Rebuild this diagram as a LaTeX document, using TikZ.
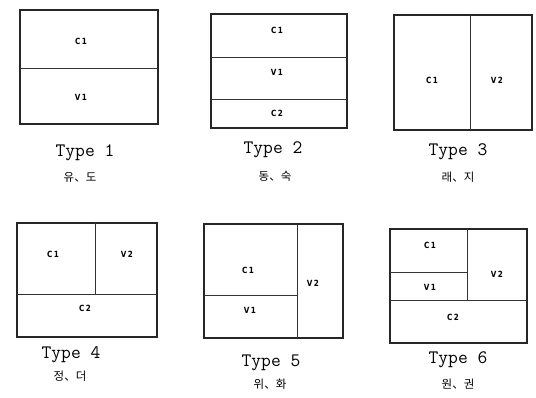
\documentclass[tikz,border=0pt]{standalone}
\usepackage{fontspec}
\newfontfamily\cjk{Noto Sans CJK KR}
\newfontfamily\cellfont[FakeStretch=0.85]{DejaVu Sans}
\begin{document}
\begin{tikzpicture}[x=1pt,y=-1pt,
  frame/.style={draw=black!85, line width=1.1pt},
  part/.style={draw=black!80, line width=0.8pt},
  cell/.style={font=\cellfont\bfseries\fontsize{8.5}{9}\selectfont, inner sep=0pt},
  typelbl/.style={font=\ttfamily\fontsize{19}{19}\selectfont, inner sep=0pt},
  namelbl/.style={font=\cjk\fontsize{11.5}{12}\selectfont, inner sep=0pt}]
\useasboundingbox (0,0) rectangle (536,397);

% Type 1: two horizontal bands
\draw[frame] (20,10) rectangle (158,124);
\draw[part] (20,68) -- (158,68);
\node[cell] (t1c1) at (81,41) {C\,1};
\node[cell] (t1v1) at (81,97) {V\,1};
\node[typelbl] (t1) at (85,153) {Type 1};
\node[namelbl] (t1n) at (80,177) {유、도};

% Type 2: three horizontal bands
\draw[frame] (211,14) rectangle (347,128);
\draw[part] (211,57) -- (347,57);
\draw[part] (211,99) -- (347,99);
\node[cell] (t2c1) at (277,30) {C\,1};
\node[cell] (t2v1) at (277,72) {V\,1};
\node[cell] (t2c2) at (277,113) {C\,2};
\node[typelbl] (t2) at (273,150) {Type 2};
\node[namelbl] (t2n) at (275,176) {동、숙};

% Type 3: two vertical columns
\draw[frame] (394,15) rectangle (532,130);
\draw[part] (470,15) -- (470,130);
\node[cell] (t3c1) at (432,80) {C\,1};
\node[cell] (t3v2) at (497,80) {V\,2};
\node[typelbl] (t3) at (458,152) {Type 3};
\node[namelbl] (t3n) at (458,177) {래、지};

% Type 4: two cells above a full-width band
\draw[frame] (17,223) rectangle (157,337);
\draw[part] (17,294) -- (157,294);
\draw[part] (95,223) -- (95,294);
\node[cell] (t4c1) at (53,254) {C\,1};
\node[cell] (t4v2) at (127,254) {V\,2};
\node[cell] (t4c2) at (85,308) {C\,2};
\node[typelbl] (t4) at (71,355) {Type 4};
\node[namelbl] (t4n) at (70,376) {정、더};

% Type 5: stacked cells beside a tall column
\draw[frame] (204,224) rectangle (343,338);
\draw[part] (297,224) -- (297,338);
\draw[part] (204,295) -- (297,295);
\node[cell] (t5c1) at (248,270) {C\,1};
\node[cell] (t5v1) at (250,310) {V\,1};
\node[cell] (t5v2) at (313,283) {V\,2};
\node[typelbl] (t5) at (271,363) {Type 5};
\node[namelbl] (t5n) at (270,384) {위、화};

% Type 6: stacked cells and a column above a full-width band
\draw[frame] (390,229) rectangle (527,343);
\draw[part] (390,300) -- (527,300);
\draw[part] (467,229) -- (467,300);
\draw[part] (390,272) -- (467,272);
\node[cell] (t6c1) at (430,245) {C\,1};
\node[cell] (t6v1) at (430,287) {V\,1};
\node[cell] (t6v2) at (497,274) {V\,2};
\node[cell] (t6c2) at (453,317) {C\,2};
\node[typelbl] (t6) at (458,360) {Type 6};
\node[namelbl] (t6n) at (458,384) {원、권};
\end{tikzpicture}
\end{document}
